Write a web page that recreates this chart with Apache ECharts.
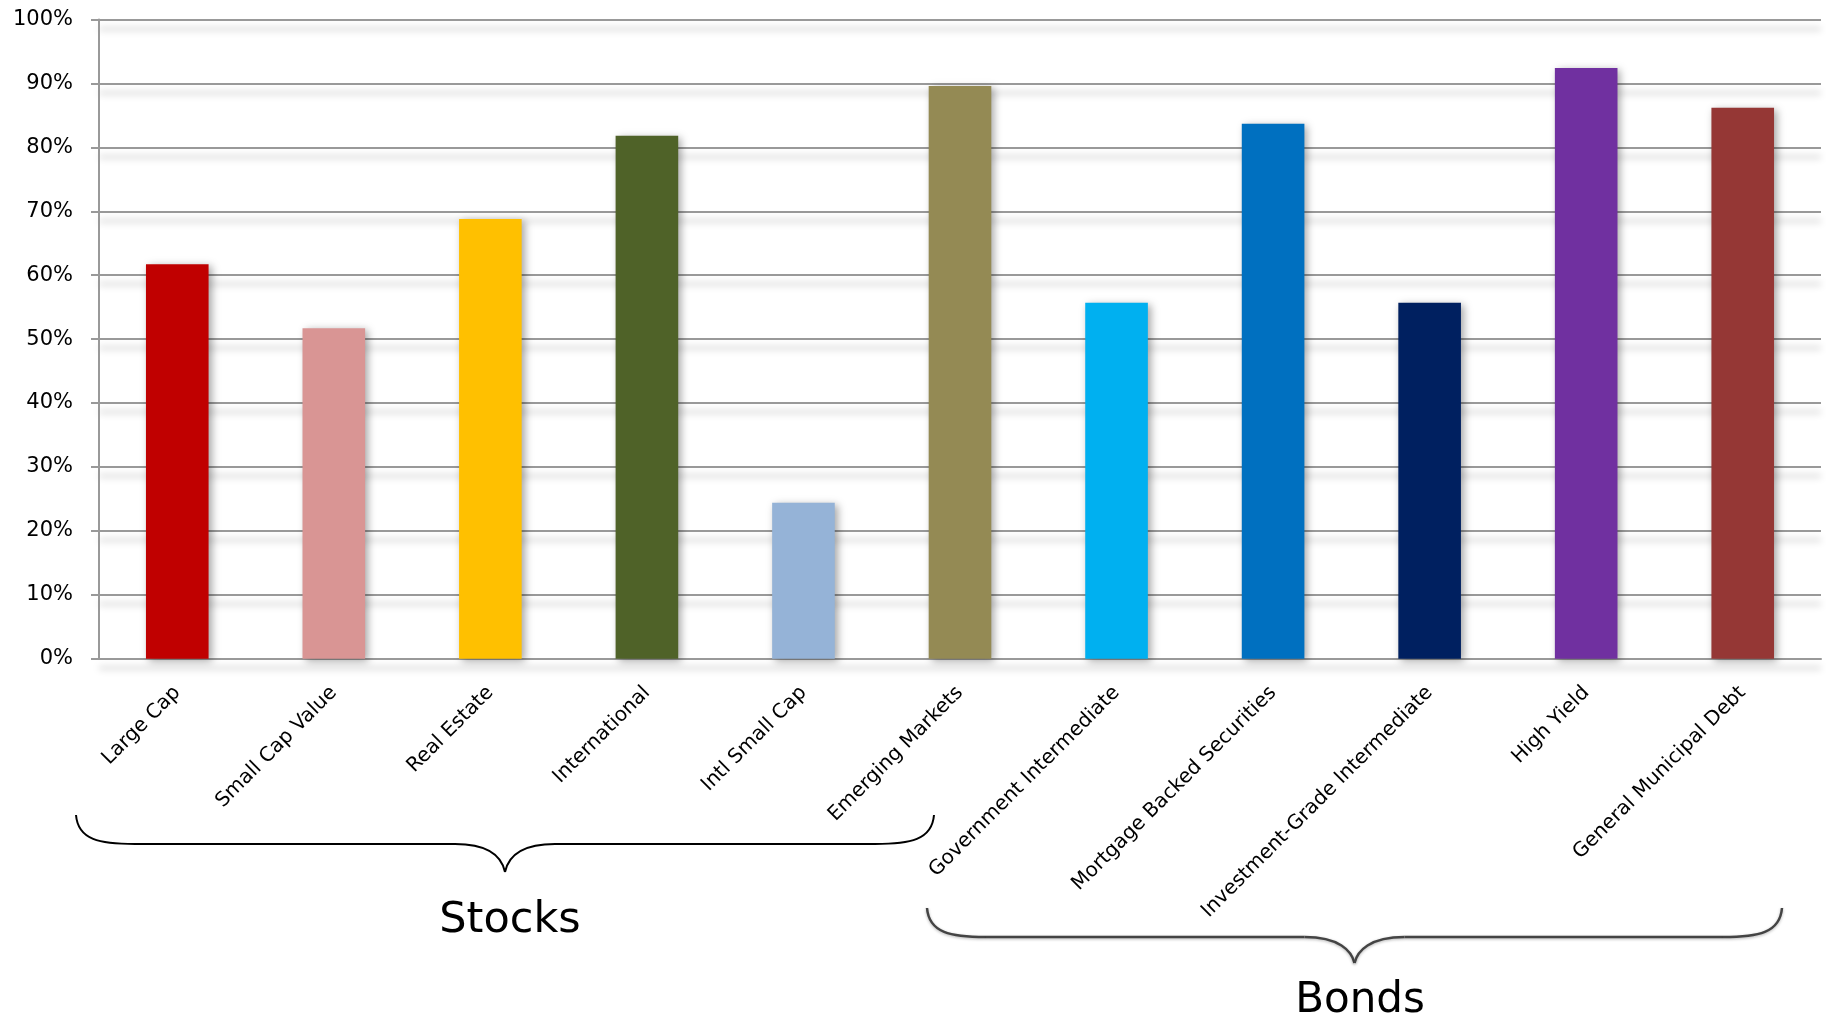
<!DOCTYPE html>
<html>
<head>
<meta charset="utf-8">
<script src="https://cdn.jsdelivr.net/npm/echarts@6/dist/echarts.min.js"></script>
<style>
html,body{margin:0;padding:0;background:#fff;}
#chart{width:1826px;height:1019px;}
</style>
</head>
<body>
<div id="chart"></div>
<script>
const categories = ['Large Cap','Small Cap Value','Real Estate','International','Intl Small Cap','Emerging Markets','Government Intermediate','Mortgage Backed Securities','Investment-Grade Intermediate','High Yield','General Municipal Debt'];
const values = [61.7, 51.7, 68.8, 81.8, 24.4, 89.6, 55.7, 83.7, 55.7, 92.4, 86.2];
const barColors = ['#C00000','#D99594','#FFC000','#4F6228','#95B3D7','#948A54','#00B0F0','#0070C0','#002060','#7030A0','#953735'];
const yTicks = [0,10,20,30,40,50,60,70,80,90,100];
const groupLabels = ['Stocks','Bonds'];

const font = 'DejaVu Sans, Verdana, sans-serif';

// brace drawn as bezier + line segments
function brace(x0, x1, yEnd, yMid, yTip, stroke, lw, extra) {
  const xm = (x0 + x1) / 2;
  const st = Object.assign({stroke: stroke, lineWidth: lw, fill: null}, extra || {});
  const seg = [];
  const bz = (a,b,c1,c2) => ({type:'bezierCurve', shape:{x1:a[0],y1:a[1],x2:b[0],y2:b[1],cpx1:c1[0],cpy1:c1[1],cpx2:c2[0],cpy2:c2[1]}, style:st, silent:true});
  const ln = (a,b) => ({type:'line', shape:{x1:a[0],y1:a[1],x2:b[0],y2:b[1]}, style:st, silent:true});
  seg.push(bz([x0,yEnd],[x0+59,yMid],[x0+2,yMid-4],[x0+24,yMid]));
  seg.push(ln([x0+59,yMid],[xm-50,yMid]));
  seg.push(bz([xm-50,yMid],[xm,yTip],[xm-15,yMid],[xm-3,yMid+14]));
  seg.push(bz([xm,yTip],[xm+50,yMid],[xm+3,yMid+14],[xm+15,yMid]));
  seg.push(ln([xm+50,yMid],[x1-59,yMid]));
  seg.push(bz([x1-59,yMid],[x1,yEnd],[x1-24,yMid],[x1-2,yMid-4]));
  return seg;
}

const chart = echarts.init(document.getElementById('chart'), null, {renderer:'canvas'});
chart.setOption({
  animation:false,
  backgroundColor:'#ffffff',
  grid:{left:99,right:5,top:19.5,bottom:360.3,containLabel:false},
  xAxis:{
    type:'category',
    data:categories,
    axisLine:{show:true,lineStyle:{color:'#999999',width:2}},
    axisTick:{show:false},
    axisLabel:{rotate:45,fontSize:20,fontFamily:font,color:'#000',margin:31,interval:0}
  },
  yAxis:{
    type:'value',
    min:yTicks[0],max:yTicks[yTicks.length-1],interval:10,
    axisLine:{show:true,lineStyle:{color:'#999999',width:2}},
    axisTick:{show:true,inside:false,length:8,lineStyle:{color:'#999999',width:2}},
    axisLabel:{formatter:'{value}%',fontSize:21,fontFamily:font,color:'#000',margin:26},
    splitLine:{show:true,lineStyle:{color:'#999999',width:2,shadowColor:'rgba(0,0,0,0.28)',shadowBlur:7,shadowOffsetY:9}}
  },
  series:[{
    type:'bar',
    barWidth:'40%',
    data:values.map((v,i)=>({value:v,itemStyle:{color:barColors[i]}})),
    itemStyle:{shadowColor:'rgba(0,0,0,0.35)',shadowBlur:8,shadowOffsetX:3,shadowOffsetY:2}
  }],
  graphic:[].concat(
    brace(76, 934, 815, 844, 872, '#000000', 2),
    brace(927, 1782, 908, 937, 963, '#444444', 2.5, {shadowColor:'rgba(0,0,0,0.3)',shadowBlur:3,shadowOffsetY:1}),
    [
      {type:'text',x:510,y:921,style:{text:groupLabels[0],font:'43px '+font,fill:'#000',textAlign:'center',textVerticalAlign:'middle'}},
      {type:'text',x:1360,y:1001,style:{text:groupLabels[1],font:'42px '+font,fill:'#000',textAlign:'center',textVerticalAlign:'middle'}}
    ]
  )
});
</script>
</body>
</html>
